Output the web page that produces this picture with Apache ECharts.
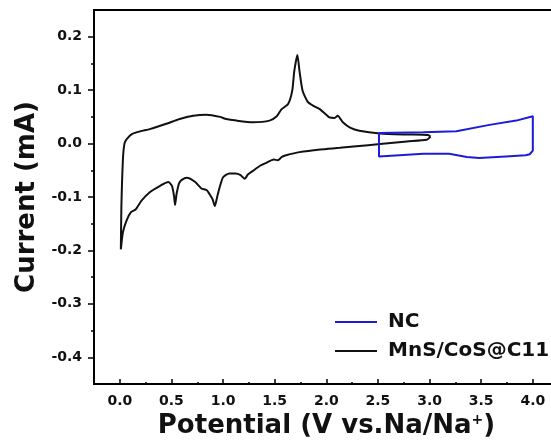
<!DOCTYPE html>
<html>
<head>
<meta charset="utf-8">
<title>CV curves</title>
<script src="https://cdn.jsdelivr.net/npm/echarts@6/dist/echarts.min.js"></script>
<style>
  html, body { margin: 0; padding: 0; background: #fff; }
  #chart { width: 551px; height: 446px; }
</style>
</head>
<body>
<div id="chart"></div>
<script>
// MnS/CoS@C11 loop: cathodic sweep 3.0 -> 0 V, then anodic sweep back to 3.0 V
var mnsPotential = [3.01, 2.97, 2.78, 2.52, 2.29, 2.13, 1.94, 1.74, 1.61, 1.57, 1.53, 1.49, 1.42, 1.355, 1.29, 1.24, 1.21, 1.17, 1.12, 1.06,
  1.0, 0.97, 0.945, 0.92, 0.9, 0.87, 0.84, 0.79, 0.73, 0.65, 0.6, 0.575, 0.55, 0.535, 0.525, 0.505, 0.47, 0.39, 0.29, 0.21,
  0.155, 0.11, 0.065, 0.03, 0.01,
  0.015, 0.03, 0.045, 0.065, 0.12, 0.2, 0.29, 0.45, 0.58, 0.71, 0.84, 0.97, 1.03, 1.13, 1.29, 1.45, 1.52, 1.565, 1.63, 1.67,
  1.69, 1.72, 1.74, 1.77, 1.82, 1.88, 1.94, 2.03, 2.08, 2.11, 2.16, 2.23, 2.32, 2.52, 2.78, 2.98, 3.01];
var mnsCurrent = [0.013, 0.007, 0.004, -0.001, -0.005, -0.008, -0.011, -0.016, -0.022, -0.025, -0.031, -0.030, -0.036, -0.042, -0.051, -0.058, -0.066, -0.059, -0.056, -0.056,
  -0.063, -0.080, -0.098, -0.117, -0.105, -0.095, -0.087, -0.084, -0.072, -0.064, -0.068, -0.074, -0.094, -0.115, -0.098, -0.079, -0.072, -0.079, -0.091, -0.107,
  -0.123, -0.128, -0.144, -0.166, -0.198,
  -0.12, -0.03, 0.0, 0.008, 0.018, 0.023, 0.027, 0.037, 0.046, 0.052, 0.054, 0.050, 0.046, 0.043, 0.040, 0.043, 0.051, 0.064, 0.074, 0.099,
  0.136, 0.166, 0.136, 0.099, 0.078, 0.070, 0.064, 0.049, 0.048, 0.052, 0.040, 0.030, 0.024, 0.019, 0.017, 0.016, 0.013];

// NC loop
var ncPotential = [2.51, 2.94, 3.26, 3.58, 3.84, 4.0, 4.0, 3.97, 3.93, 3.74, 3.48, 3.36, 3.19, 2.94, 2.51, 2.51];
var ncCurrent = [0.020, 0.021, 0.023, 0.035, 0.043, 0.051, -0.013, -0.020, -0.022, -0.024, -0.027, -0.025, -0.019, -0.019, -0.024, 0.020];

var xTickLabels = ['0.0', '0.5', '1.0', '1.5', '2.0', '2.5', '3.0', '3.5', '4.0'];
var xMinorTicks = [0.25, 0.75, 1.25, 1.75, 2.25, 2.75, 3.25, 3.75];
var yTickLabels = ['-0.4', '-0.3', '-0.2', '-0.1', '0.0', '0.1', '0.2'];
var yMinorTicks = [-0.35, -0.25, -0.15, -0.05, 0.05, 0.15];

var seriesNames = ['NC', 'MnS/CoS@C11'];

function pairs(xs, ys) {
  return xs.map(function (x, i) { return [x, ys[i]]; });
}

var xTickValues = xTickLabels.map(parseFloat);
var yTickValues = yTickLabels.map(parseFloat);

var font = 'DejaVu Sans';
var ink = '#111';
var blue = '#1c1cd6';
var frame = { show: true, onZero: false, lineStyle: { color: '#000', width: 2 } };
// the frame runs past the right edge of the picture
var xMin = -0.25, xMax = 4.176;
var yMin = -0.45, yMax = 0.25;

var myChart = echarts.init(document.getElementById('chart'));
var option = {
  animation: false,
  backgroundColor: '#fff',
  grid: { left: 94, top: 10, right: 0, bottom: 62 },
  legend: {
    data: seriesNames,
    orient: 'vertical',
    left: 335, top: 312, padding: 0,
    icon: 'rect',
    itemWidth: 42, itemHeight: 2, itemGap: 9,
    textStyle: { fontSize: 20, fontWeight: 'bold', fontFamily: font, color: ink, padding: [0, 0, 0, 6] }
  },
  xAxis: [
    {
      type: 'value', min: xMin, max: xMax,
      axisLine: frame,
      axisTick: { show: true, inside: true, length: 5, customValues: xTickValues, lineStyle: { color: '#000', width: 1.5 } },
      axisLabel: {
        customValues: xTickValues, margin: 10,
        formatter: function (v) { return xTickLabels[xTickValues.indexOf(v)] || v.toFixed(1); },
        fontSize: 14, fontWeight: 'bold', fontFamily: font, color: ink
      },
      splitLine: { show: false },
      name: 'Potential (V vs.Na/Na{sup|+})',
      nameLocation: 'middle', nameGap: 25,
      nameTextStyle: {
        fontSize: 26, fontWeight: 'bold', fontFamily: font, color: ink, padding: [0, 0, 0, 8],
        rich: { sup: { fontSize: 14, fontWeight: 'bold', fontFamily: font, color: ink, verticalAlign: 'top' } }
      }
    },
    {
      type: 'value', min: xMin, max: xMax, position: 'bottom',
      axisLine: frame,
      axisTick: { show: true, inside: true, length: 2, customValues: xMinorTicks, lineStyle: { color: '#000', width: 1.5 } },
      axisLabel: { show: false },
      splitLine: { show: false }
    },
    {
      type: 'value', min: xMin, max: xMax, position: 'top',
      axisLine: frame,
      axisTick: { show: false },
      axisLabel: { show: false },
      splitLine: { show: false }
    }
  ],
  yAxis: [
    {
      type: 'value', min: yMin, max: yMax, position: 'left',
      axisLine: frame,
      axisTick: { show: true, length: 6, customValues: yTickValues, lineStyle: { color: '#000', width: 1.5 } },
      axisLabel: {
        customValues: yTickValues, margin: 12,
        formatter: function (v) { return yTickLabels[yTickValues.indexOf(v)] || v.toFixed(1); },
        fontSize: 14, fontWeight: 'bold', fontFamily: font, color: ink
      },
      splitLine: { show: false },
      name: 'Current (mA)',
      nameLocation: 'middle', nameGap: 45,
      nameTextStyle: { fontSize: 26, fontWeight: 'bold', fontFamily: font, color: ink }
    },
    {
      type: 'value', min: yMin, max: yMax, position: 'left',
      axisLine: frame,
      axisTick: { show: true, length: 3, customValues: yMinorTicks, lineStyle: { color: '#000', width: 1.5 } },
      axisLabel: { show: false },
      splitLine: { show: false }
    }
  ],
  series: [
    {
      name: 'MnS/CoS@C11', type: 'line',
      data: pairs(mnsPotential, mnsCurrent),
      symbol: 'none', smooth: 0.2,
      lineStyle: { color: ink, width: 2 },
      itemStyle: { color: ink }
    },
    {
      name: 'NC', type: 'line',
      data: pairs(ncPotential, ncCurrent),
      symbol: 'none',
      lineStyle: { color: blue, width: 2 },
      itemStyle: { color: blue }
    }
  ]
};
myChart.setOption(option);
</script>
</body>
</html>
